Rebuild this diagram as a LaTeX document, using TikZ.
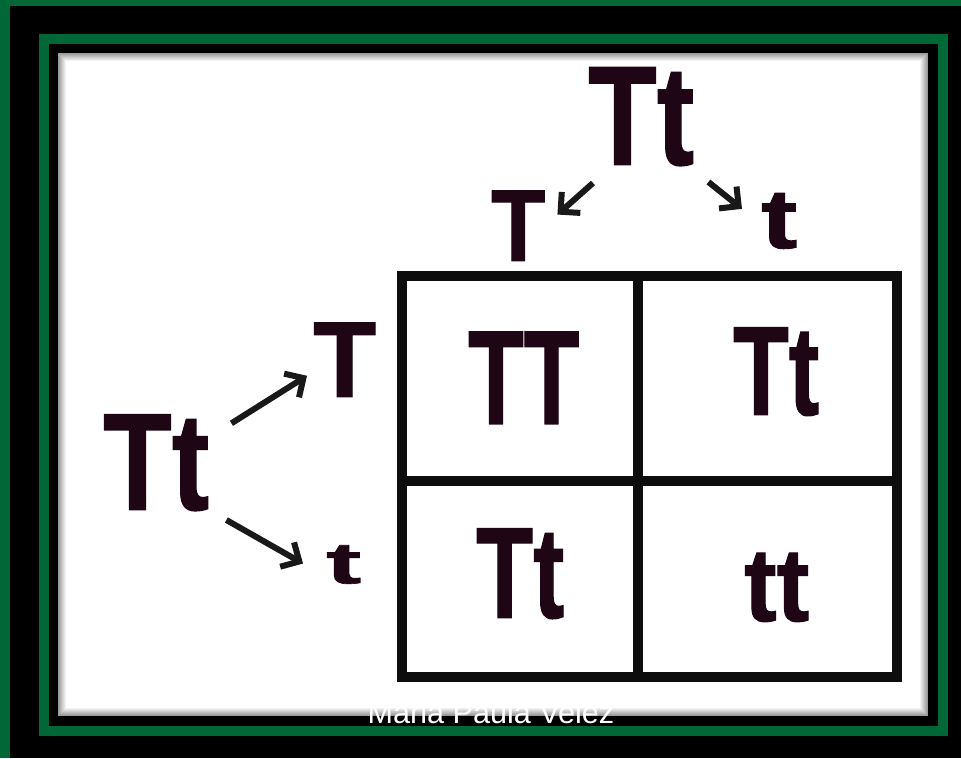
\documentclass[tikz,border=0pt]{standalone}
\usepackage{fontspec}
\usepackage{graphicx}
\usetikzlibrary{arrows.meta}
\newfontfamily\genefont{Liberation Sans Bold}[FakeBold=1.1]
\newfontfamily\creditfont{Liberation Sans}
\definecolor{framegreen}{RGB}{0,104,55}
\definecolor{allelecol}{RGB}{30,6,20}
\newcommand{\allele}[3]{\resizebox{#1pt}{#2pt}{\genefont #3}}

\begin{document}
\begin{tikzpicture}[x=1pt, y=-1pt,
  allelenode/.style={inner sep=0pt, text=allelecol, anchor=south west},
  gamarrow/.style={line width=6pt, draw=black!90, -{Straight Barb[length=14pt,width=28pt]}},
  squareline/.style={line width=10pt, draw=black!95}]
\useasboundingbox (0,0) rectangle (961,758);
\fill[black] (0,0) rectangle (961,758);
\fill[framegreen] (0,0) rectangle (10,758);
\fill[framegreen] (0,0) rectangle (961,6);
\draw[framegreen, line width=10pt] (43.5,39) rectangle (943,730.5);
\foreach \k [evaluate=\k as \lvl using 20+\k*10] in {0,...,8}
  \fill[white!\lvl!gray] ({58+\k},{53+\k}) rectangle ({928-\k},{716-\k});
\draw[squareline] (402,276) rectangle (897,677);
\draw[squareline] (638,276) -- (638,677);
\draw[squareline] (402,481) -- (897,481);
\node[allelenode] (pTop) at (588,166) {\allele{106}{97}{Tt}};
\node[allelenode] (gTopT) at (491,261) {\allele{54}{70}{T}};
\node[allelenode] (gTopt) at (761,249) {\allele{36}{55}{t}};
\node[allelenode] (pLeft) at (103,511) {\allele{106}{95}{Tt}};
\node[allelenode] (gLeftT) at (313,397) {\allele{63}{74}{T}};
\node[allelenode] (gLeftt) at (326,584) {\allele{35}{38}{t}};
\node[allelenode] (cTT) at (468,424) {\allele{111}{92}{TT}};
\node[allelenode] (cTtA) at (733,416) {\allele{86}{87}{Tt}};
\node[allelenode] (cTtB) at (476,619) {\allele{88}{89}{Tt}};
\node[allelenode] (ctt) at (744,622) {\allele{65}{68}{tt}};
\draw[gamarrow] ([shift={(5,17)}]pTop.south west) -- ([shift={(12,24)}]gTopT.north east);
\draw[gamarrow] ([shift={(14,16)}]pTop.south east) -- ([shift={(-19,16)}]gTopt.north west);
\draw[gamarrow] ([shift={(22,9)}]pLeft.north east) -- ([shift={(-6,16)}]gLeftT.west);
\draw[gamarrow] ([shift={(17,9)}]pLeft.south east) -- ([shift={(-23,-1)}]gLeftt.west);
\node[text=white, font=\creditfont\fontsize{30.6}{30.6}\selectfont, anchor=base] (credit) at (491,723) {Maria Paula Velez};
\end{tikzpicture}
\end{document}
